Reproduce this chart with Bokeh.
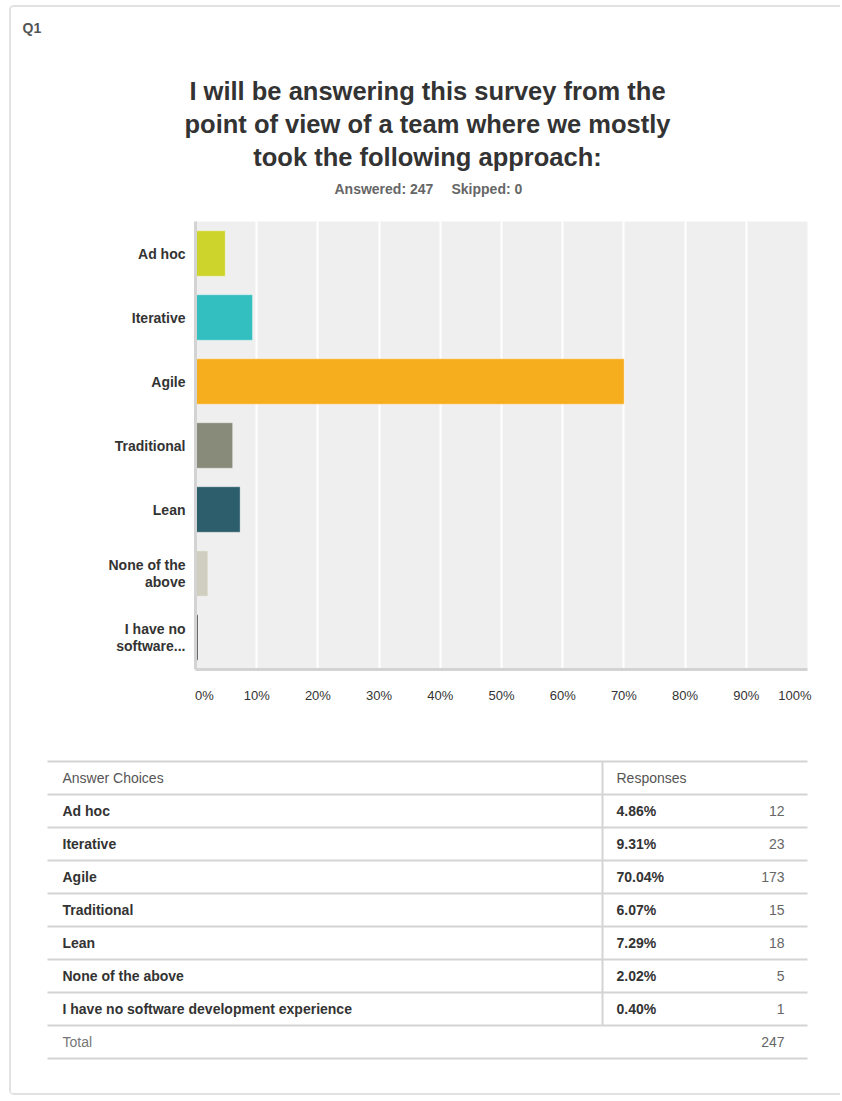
from bokeh.plotting import figure
from bokeh.models import Range1d, FixedTicker, ColumnDataSource
from bokeh.embed import file_html
from bokeh.resources import INLINE
from bokeh.core.properties import value

# ---------------- data ----------------
question_label = "Q1"
title_lines = [
    "I will be answering this survey from the",
    "point of view of a team where we mostly",
    "took the following approach:",
]
answered = 247
skipped = 0
categories = [
    "Ad hoc",
    "Iterative",
    "Agile",
    "Traditional",
    "Lean",
    "None of the above",
    "I have no software development experience",
]
axis_labels = [
    "Ad hoc",
    "Iterative",
    "Agile",
    "Traditional",
    "Lean",
    "None of the\nabove",
    "I have no\nsoftware...",
]
percents = [4.86, 9.31, 70.04, 6.07, 7.29, 2.02, 0.40]
counts = [12, 23, 173, 15, 18, 5, 1]
total = 247
colors = ["#cdd42b", "#33bec0", "#f6ae1f", "#898b7a", "#2d5e6b", "#d0cfbf", "#3c3c3c"]
x_ticks = [0, 10, 20, 30, 40, 50, 60, 70, 80, 90, 100]
x_tick_labels = ["0%", "10%", "20%", "30%", "40%", "50%", "60%", "70%", "80%", "90%", "100%"]
table_headers = ["Answer Choices", "Responses"]
total_label = "Total"

# ---------------- style ----------------
FONT_NAME = "Liberation Sans"
FONT = value(FONT_NAME)
X0 = 11                      # page x of the figures' content (after margin + border)
W = 842 - X0
HDR_TOP, HDR_BOT = 7, 219
CH_H = 522
TB_TOP, TB_BOT = 741, 1097
NB = "\u00a0"
BORDER = "2px solid #e2e2e2"


def blank_fig(top, bot, styles):
    f = figure(width=W, height=bot - top,
               x_range=Range1d(X0, X0 + W), y_range=Range1d(bot, top),
               toolbar_location=None, output_backend="svg", min_border=0,
               x_axis_location=None, y_axis_location=None, outline_line_color=None,
               styles=styles)
    f.xgrid.visible = False
    f.ygrid.visible = False
    return f


# ---------------- header ----------------
hdr = blank_fig(HDR_TOP, HDR_BOT, {
    "margin-left": "9px", "margin-top": "5px",
    "border-left": BORDER, "border-top": BORDER, "border-top-left-radius": "5px",
})
hdr.text(x=[22], y=[27], text=[question_label], text_font=FONT, text_font_size="14px",
         text_font_style="bold", text_color="#555555", text_align="left", text_baseline="middle")
hdr.text(x=[427] * len(title_lines), y=[90, 123, 156], text=title_lines, text_font=FONT,
         text_font_size="25.5px", text_font_style="bold", text_color="#333333",
         text_align="center", text_baseline="middle")
hdr.text(x=[334, 451], y=[188, 188], text=[f"Answered: {answered}", f"Skipped: {skipped}"],
         text_font=FONT, text_font_size="14px", text_font_style="bold", text_color="#666666",
         text_align="left", text_baseline="middle")

# ---------------- chart ----------------
n = len(categories)
ypos = [n - 1 - i for i in range(n)]
src = ColumnDataSource(dict(y=ypos, right=percents, color=colors, cat=categories))

ch = figure(width=W, height=CH_H, x_range=Range1d(0, 100), y_range=Range1d(-0.5, n - 0.5),
            toolbar_location=None, output_backend="svg",
            min_border_left=195 - X0, min_border_right=842 - 807, min_border_top=4,
            min_border_bottom=70,
            background_fill_color="#efefef", outline_line_color=None,
            styles={"margin-left": "9px", "border-left": BORDER})
ch.hbar(y="y", left=0, right="right", height=0.71, fill_color="color",
        line_color="white", line_alpha=0.35, line_width=1, source=src)

ch.xaxis.ticker = FixedTicker(ticks=x_ticks)
overrides = {}
for t, lab in zip(x_ticks, x_tick_labels):
    if t == x_ticks[0]:
        lab = NB * 5 + lab
    elif t == x_ticks[-1]:
        lab = lab + NB * 7
    overrides[t] = lab
ch.xaxis.major_label_overrides = overrides
ch.yaxis.ticker = FixedTicker(ticks=ypos)
ch.yaxis.major_label_overrides = {y: lab for y, lab in zip(ypos, axis_labels)}

for ax in (ch.xaxis[0], ch.yaxis[0]):
    ax.axis_line_color = "#d3d3d3"
    ax.axis_line_width = 3
    ax.major_tick_line_color = None
    ax.minor_tick_line_color = None
    ax.major_tick_out = 0
    ax.major_tick_in = 0
    ax.major_label_text_font = FONT_NAME
    ax.major_label_text_color = "#333333"

ch.yaxis.major_label_text_font_size = "14px"
ch.yaxis.major_label_text_font_style = "bold"
ch.yaxis.major_label_text_line_height = 1.1
ch.yaxis.major_label_standoff = 10
ch.xaxis.major_label_text_font_size = "13px"
ch.xaxis.major_label_standoff = 18

ch.xgrid.grid_line_color = "white"
ch.xgrid.grid_line_width = 2
ch.ygrid.grid_line_color = None

# ---------------- table ----------------
tb = blank_fig(TB_TOP, TB_BOT, {
    "margin-left": "9px",
    "border-left": BORDER, "border-bottom": BORDER, "border-bottom-left-radius": "5px",
})

T_TOP, ROW = 763, 33
T_LEFT, T_RIGHT, T_DIV = 47, 807, 602
n_lines = n + 3
line_y = [T_TOP + ROW * k for k in range(n_lines)]
tb.segment(x0=[T_LEFT] * n_lines, y0=line_y, x1=[T_RIGHT] * n_lines, y1=line_y,
           line_color="#d4d4d4", line_width=2)
tb.segment(x0=[T_DIV], y0=[T_TOP], x1=[T_DIV], y1=[T_TOP + ROW * (n + 1)],
           line_color="#d4d4d4", line_width=2)

mid = ROW / 2
tb.text(x=[62, 616], y=[T_TOP + mid] * 2, text=table_headers, text_font=FONT,
        text_font_size="14px", text_color="#555555", text_align="left", text_baseline="middle")
row_y = [T_TOP + ROW * (i + 1) + mid for i in range(n)]
tb.text(x=[62] * n, y=row_y, text=categories, text_font=FONT, text_font_size="14px",
        text_font_style="bold", text_color="#333333", text_align="left", text_baseline="middle")
tb.text(x=[616] * n, y=row_y, text=[f"{p:.2f}%" for p in percents], text_font=FONT,
        text_font_size="14px", text_font_style="bold", text_color="#333333",
        text_align="left", text_baseline="middle")
tb.text(x=[784] * n, y=row_y, text=[str(c) for c in counts], text_font=FONT,
        text_font_size="14px", text_color="#666666", text_align="right", text_baseline="middle")
total_y = T_TOP + ROW * (n + 1) + mid
tb.text(x=[62], y=[total_y], text=[total_label], text_font=FONT, text_font_size="14px",
        text_color="#777777", text_align="left", text_baseline="middle")
tb.text(x=[784], y=[total_y], text=[str(total)], text_font=FONT, text_font_size="14px",
        text_color="#666666", text_align="right", text_baseline="middle")

open("out.html", "w").write(file_html([hdr, ch, tb], INLINE))
